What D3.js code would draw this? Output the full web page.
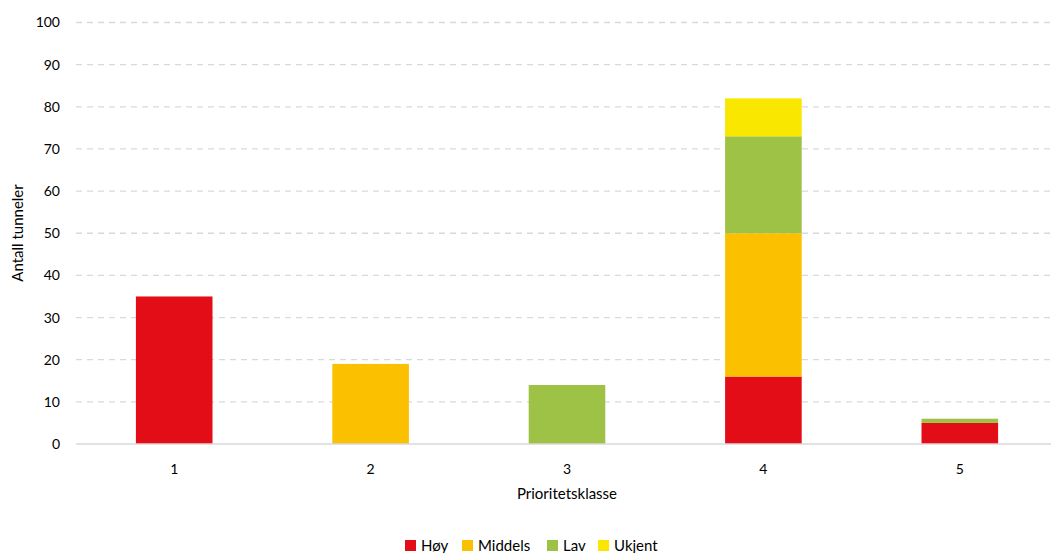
<!DOCTYPE html>
<html><head><meta charset="utf-8">
<script src="https://cdn.jsdelivr.net/npm/d3@7"></script>
<style>body{margin:0;background:#fff}svg{display:block;font-family:Lato,"Open Sans",sans-serif}</style>
</head><body><svg id="c" width="1051" height="553"></svg>
<script>
const categories = ["1","2","3","4","5"];
const seriesNames = ["Høy","Middels","Lav","Ukjent"];
const hoy =     [35, 0, 0, 16, 5];
const middels = [0, 19, 0, 34, 0];
const lav =     [0, 0, 14, 23, 1];
const ukjent =  [0, 0, 0, 9, 0];
const yTicks = [0,10,20,30,40,50,60,70,80,90,100];
const colors = ["#e30d17","#fbc000","#9dc245","#f9e700"];

const svg = d3.select("#c");
const x = d3.scaleBand().domain(categories).range([76, 1058]).paddingInner(0.61).paddingOuter(0.305);
const y = d3.scaleLinear().domain([0,100]).range([444, 22.5]);

// gridlines
svg.append("g").selectAll("line").data(yTicks.filter(d=>d>0)).join("line")
  .attr("x1",76).attr("x2",1051).attr("y1",d=>y(d)).attr("y2",d=>y(d))
  .attr("stroke","#d9d9d9").attr("stroke-width",1.3).attr("stroke-dasharray","6,5");

const rows = categories.map((c,i)=>({cat:c, "Høy":hoy[i], "Middels":middels[i], "Lav":lav[i], "Ukjent":ukjent[i]}));
const stack = d3.stack().keys(seriesNames)(rows);
svg.append("g").selectAll("g").data(stack).join("g").attr("fill",(d,i)=>colors[i])
  .selectAll("rect").data(d=>d).join("rect")
  .attr("x",d=>x(d.data.cat)).attr("width",x.bandwidth())
  .attr("y",d=>y(d[1])).attr("height",d=>Math.max(0,y(d[0])-y(d[1])));

// baseline
svg.append("line").attr("x1",76).attr("x2",1051).attr("y1",y(0)).attr("y2",y(0)).attr("stroke","#d9d9d9").attr("stroke-width",1.3);

// y axis
const ya = svg.append("g").attr("transform","translate(60,0)").call(d3.axisLeft(y).tickValues(yTicks).tickSize(0).tickPadding(0));
ya.select(".domain").remove();
ya.selectAll("text").attr("font-size",14).attr("fill","#000").attr("font-family","Lato,sans-serif");

// x axis
const xa = svg.append("g").attr("transform",`translate(0,${y(0)})`).call(d3.axisBottom(x).tickSize(0).tickPadding(20));
xa.select(".domain").remove();
xa.selectAll("text").attr("font-size",14).attr("fill","#000").attr("font-family","Lato,sans-serif");

svg.append("text").attr("x",567).attr("y",499).attr("text-anchor","middle").attr("font-size",15).text("Prioritetsklasse");
svg.append("text").attr("transform","translate(23,233) rotate(-90)").attr("text-anchor","middle").attr("font-size",15).text("Antall tunneler");

// legend
const legX = [405, 462, 547, 598];
const lg = svg.append("g").selectAll("g").data(seriesNames).join("g").attr("transform",(d,i)=>`translate(${legX[i]},540)`);
lg.append("rect").attr("width",11).attr("height",11).attr("fill",(d,i)=>colors[i]);
lg.append("text").attr("x",16).attr("y",11).attr("font-size",15).text(d=>d);
</script></body></html>
